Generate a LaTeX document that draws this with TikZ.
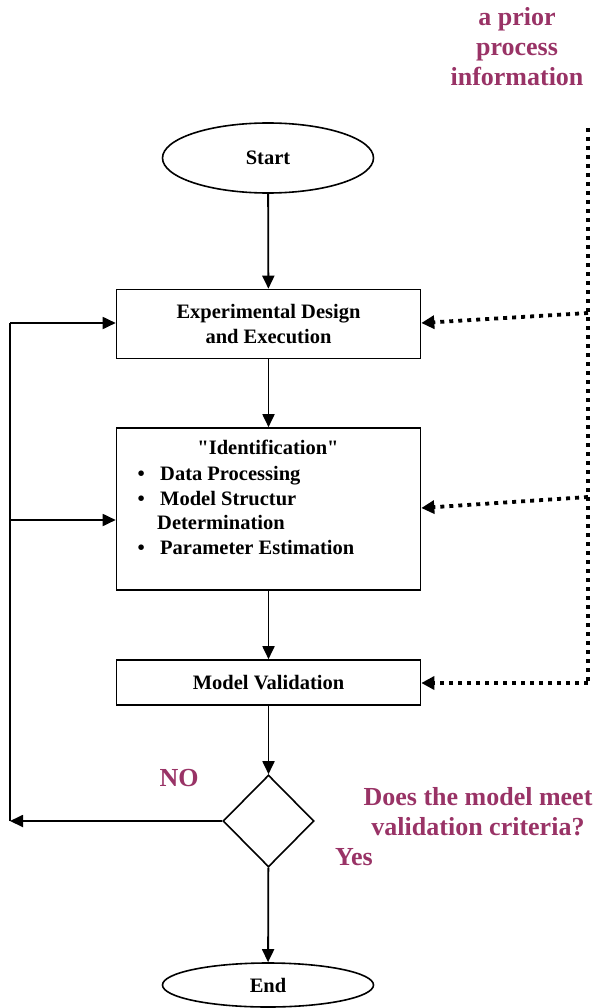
\documentclass[tikz,border=0pt]{standalone}
\usepackage{fontspec}
\setmainfont{Liberation Serif}[Ligatures=TeXOff]
\usetikzlibrary{shapes.geometric,arrows.meta,calc}
\definecolor{plum}{HTML}{993366}
\tikzset{
  boxtext/.style={font=\bfseries\fontsize{20.5}{25}\selectfont},
  plumtext/.style={font=\bfseries\fontsize{26}{30}\selectfont,text=plum,align=center},
  stepbox/.style={draw,line width=1.6pt,rectangle,minimum width=304pt,inner sep=0pt,boxtext,align=center},
  termnode/.style={draw,line width=1.6pt,ellipse,minimum width=211pt,inner sep=0pt,boxtext},
  decnode/.style={draw,line width=1.6pt,diamond,minimum width=91pt,minimum height=92pt,inner sep=0pt},
  flow/.style={line width=1.8pt,-{Triangle[length=13pt,width=12pt]}},
  plainline/.style={line width=1.8pt},
  dotline/.style={line width=3.8pt,dash pattern=on 4pt off 5pt},
  dotarrow/.style={dotline,-{Triangle[length=13pt,width=13pt]}},
  itemtext/.style={boxtext,anchor=mid west,inner sep=0pt},
}
\begin{document}
\begin{tikzpicture}[x=1pt,y=-1pt]
\useasboundingbox (0,0) rectangle (595,1008);

\node[plumtext] (prior) at (517,47) {a prior\\process\\information};

\node[termnode,minimum height=70pt] (start) at (268,158) {Start};
\node[stepbox,minimum height=69pt] (exp) at (268.5,324) {Experimental Design\\and Execution};
\node[stepbox,minimum height=162pt] (ident) at (268.5,509) {};
\node[boxtext,inner sep=0pt,anchor=mid] (idtitle) at (268,452) {"Identification"};
\node[itemtext] (b1) at (137.5,478) {\textbullet};
\node[itemtext] (i1) at (160,478) {Data Processing};
\node[itemtext] (b2) at (137.5,503) {\textbullet};
\node[itemtext] (i2) at (160,503) {Model Structur};
\node[itemtext] (i2b) at (157,527) {Determination};
\node[itemtext] (b3) at (137.5,552) {\textbullet};
\node[itemtext] (i3) at (160,552) {Parameter Estimation};
\node[stepbox,minimum height=45pt] (val) at (268.5,682.5) {Model Validation};
\node[decnode] (dec) at (268.5,821) {};
\node[termnode,minimum height=44pt] (end) at (268,985) {End};

\node[plumtext] (no) at (179,778) {NO};
\node[plumtext] (yes) at (354,857) {Yes};
\node[plumtext] (question) at (478,812) {Does the model meet\\validation criteria?};

% main flow
\draw[flow] (start) -- (exp);
\draw[flow] (exp) -- (ident);
\draw[flow] (ident) -- (val);
\draw[flow] (val) -- (dec);
\draw[flow] (dec) -- (end);

% feedback loop
\coordinate (lbot) at (10,821);
\coordinate (lmid) at (10,520);
\coordinate (ltop) at (10,323);
\draw[flow] (dec.west) -- (lbot);
\draw[plainline] (lbot) -- (ltop);
\draw[flow] (ltop) -- (ltop -| exp.west);
\draw[flow] (lmid) -- (lmid -| ident.west);

% prior information (dotted)
\coordinate (dtop) at (588,128);
\coordinate (dbot) at (588,683);
\coordinate (d1) at (588,313);
\coordinate (d2) at (588,497);
\draw[dotline] (dtop) -- (dbot);
\draw[dotarrow] (d1) -- ($(exp.east)+(0,-1)$);
\draw[dotarrow] (d2) -- ($(ident.east)+(0,-1)$);
\draw[dotarrow] (dbot) -- (dbot -| val.east);
\end{tikzpicture}
\end{document}
